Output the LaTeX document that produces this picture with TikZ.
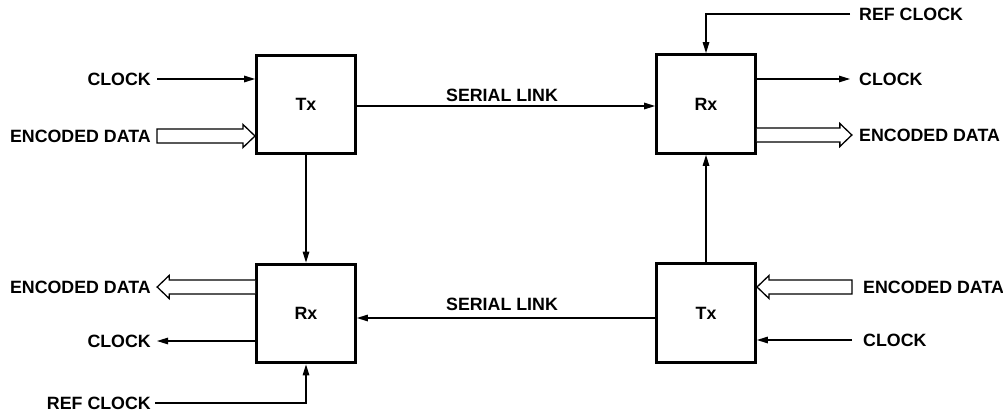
\documentclass[tikz,border=0pt]{standalone}
\usepackage{fontspec}
\setmainfont{Liberation Sans}
\usetikzlibrary{arrows.meta,calc}
\begin{document}
\begin{tikzpicture}[x=1pt,y=-1pt,
  box/.style={draw,line width=3.2pt,minimum size=98.5pt,inner sep=0pt,font=\fontsize{17.8}{20}\bfseries\selectfont},
  lbl/.style={inner sep=0pt,font=\fontsize{17.8}{20}\bfseries\selectfont},
  wire/.style={line width=1.3pt,-{Triangle[length=11pt,width=6.5pt]}},
  hollow/.style={line width=1.3pt,fill=white,line join=miter}]
\useasboundingbox (0,0) rectangle (1003,415);
% boxes
\node[box] (txa) at (306,104.5) {Tx};
\node[box] (rxa) at (706,104) {Rx};
\node[box] (rxb) at (306,313.5) {Rx};
\node[box] (txb) at (706,313) {Tx};
% free ends
\coordinate (clkin) at (157,79);
\coordinate (edin) at (157,136);
\coordinate (refa) at (850,14);
\coordinate (clkouta) at (850,79);
\coordinate (edouta) at (850,135);
\coordinate (edinb) at (852,287);
\coordinate (clkinb) at (852,340);
\coordinate (edoutb) at (157,287);
\coordinate (clkoutb) at (157,341);
\coordinate (refb) at (155,403);
% labels
\node[lbl,anchor=east] at (151,79) {CLOCK};
\node[lbl,anchor=east] at (151,136) {ENCODED DATA};
\node[lbl,anchor=west] at (859,14) {REF CLOCK};
\node[lbl,anchor=west] at (859,79) {CLOCK};
\node[lbl,anchor=west] at (859,135) {ENCODED DATA};
\node[lbl,anchor=west] at (863,287) {ENCODED DATA};
\node[lbl,anchor=west] at (863,340) {CLOCK};
\node[lbl,anchor=east] at (151,287) {ENCODED DATA};
\node[lbl,anchor=east] at (151,341) {CLOCK};
\node[lbl,anchor=east] at (151,403) {REF CLOCK};
\node[lbl] (sla) at (502,95.5) {SERIAL LINK};
\node[lbl] (slb) at (502,304.5) {SERIAL LINK};
% connectors
\draw[wire] (clkin) -- (clkin -| txa.west);
\draw[wire] ($(txa.east)+(0,1.5)$) -- ($(rxa.west)+(0,2)$);
\draw[wire] (txa.south) -- (rxb.north);
\draw[wire] (refa) -| (rxa.north);
\draw[wire] (clkouta -| rxa.east) -- (clkouta);
\draw[wire] (txb.north) -- (rxa.south);
\draw[wire] (clkinb) -- (clkinb -| txb.east);
\draw[wire] ($(txb.west)+(0,5)$) -- ($(rxb.east)+(0,4.5)$);
\draw[wire] (clkoutb -| rxb.west) -- (clkoutb);
\draw[wire] (refb) -| (rxb.south);
% hollow arrows
\draw[hollow] (edin) ++(0,-7) -- ++(86,0) -- ++(0,-4.5) -- ++(12,11.5) -- ++(-12,11.5) -- ++(0,-4.5) -- ++(-86,0) -- cycle;
\draw[hollow] (edouta -| rxa.east) ++(0,-7) -- ++(83,0) -- ++(0,-4.5) -- ++(12,11.5) -- ++(-12,11.5) -- ++(0,-4.5) -- ++(-83,0);
\draw[hollow] (edinb) ++(0,-7) -- ++(-83,0) -- ++(0,-4.5) -- ++(-12,11.5) -- ++(12,11.5) -- ++(0,-4.5) -- ++(83,0) -- cycle;
\draw[hollow] (edoutb -| rxb.west) ++(0,-7) -- ++(-86,0) -- ++(0,-4.5) -- ++(-12,11.5) -- ++(12,11.5) -- ++(0,-4.5) -- ++(86,0);
\end{tikzpicture}
\end{document}
